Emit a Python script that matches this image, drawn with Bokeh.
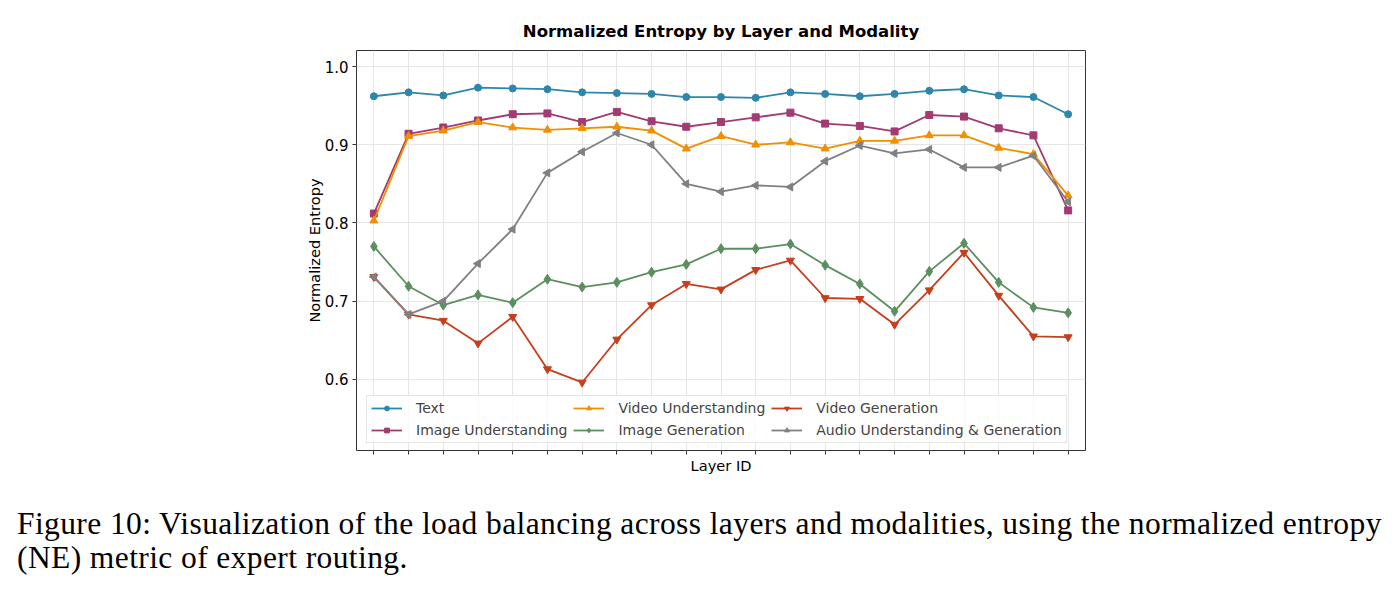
import math
from bokeh.plotting import figure
from bokeh.layouts import column
from bokeh.models import (ColumnDataSource, Legend, LegendItem, FixedTicker,
                          NumeralTickFormatter, CustomJSTickFormatter, Range1d, Div)
from bokeh.embed import file_html
from bokeh.resources import INLINE

layers = list(range(21))

text_ne = [0.962, 0.967, 0.963, 0.973, 0.972, 0.971, 0.967, 0.966, 0.965, 0.961,
           0.961, 0.960, 0.967, 0.965, 0.962, 0.965, 0.969, 0.971, 0.963, 0.961, 0.939]
image_und = [0.812, 0.914, 0.922, 0.931, 0.939, 0.940, 0.929, 0.942, 0.930, 0.923,
             0.929, 0.935, 0.941, 0.927, 0.924, 0.917, 0.938, 0.936, 0.921, 0.912, 0.816]
video_und = [0.803, 0.911, 0.918, 0.929, 0.922, 0.919, 0.921, 0.923, 0.918, 0.895,
             0.911, 0.900, 0.903, 0.895, 0.905, 0.905, 0.912, 0.912, 0.896, 0.888, 0.835]
image_gen = [0.770, 0.719, 0.695, 0.708, 0.698, 0.728, 0.718, 0.724, 0.737, 0.747,
             0.767, 0.767, 0.773, 0.746, 0.722, 0.687, 0.738, 0.774, 0.724, 0.692, 0.685]
video_gen = [0.731, 0.683, 0.675, 0.646, 0.680, 0.613, 0.596, 0.651, 0.695, 0.722,
             0.715, 0.740, 0.752, 0.704, 0.703, 0.670, 0.714, 0.762, 0.707, 0.655, 0.654]
audio = [0.731, 0.683, 0.700, 0.748, 0.792, 0.864, 0.891, 0.915, 0.900, 0.850,
         0.840, 0.848, 0.846, 0.879, 0.899, 0.889, 0.894, 0.871, 0.871, 0.886, 0.827]

y_ticks = [0.6, 0.7, 0.8, 0.9, 1.0]

series_names = ["Text", "Image Understanding", "Video Understanding",
                "Image Generation", "Video Generation", "Audio Understanding & Generation"]
series_values = [text_ne, image_und, video_und, image_gen, video_gen, audio]
colors = ["#2E86AB", "#A23B72", "#F18F01", "#5B8F5F", "#C73E1D", "#808080"]
markers = ["circle", "square", "triangle", "diamond", "inverted_triangle", "triangle"]
angles = [0, 0, 0, 0, 0, math.pi / 2]
sizes = [7, 7, 8, 10, 8, 8]

caption_line1 = "Figure 10: Visualization of the load balancing across layers and modalities, using the normalized entropy"
caption_line2 = "(NE) metric of expert routing."

p = figure(width=1394, height=505, output_backend="svg", toolbar_location=None,
           x_range=Range1d(-0.5, 20.5), y_range=Range1d(0.509, 1.0205),
           min_border_left=356, min_border_right=309, min_border_top=50,
           min_border_bottom=55)

p.title.text = "Normalized Entropy by Layer and Modality"
p.title.align = "center"
p.title.text_font = "DejaVu Sans"
p.title.text_font_size = "16.5px"
p.title.text_font_style = "bold"
p.title.text_color = "#000000"
p.title.standoff = 19

p.outline_line_color = "#333333"
p.outline_line_width = 1
p.background_fill_color = "white"
p.border_fill_color = "white"

for ax in (p.xaxis[0], p.yaxis[0]):
    ax.axis_line_color = None
    ax.major_tick_line_color = "#333333"
    ax.major_tick_out = 4
    ax.major_tick_in = 0
    ax.minor_tick_line_color = None
    ax.major_label_text_font = "DejaVu Sans"
    ax.major_label_text_font_size = "15px"
    ax.major_label_text_color = "#000000"
    ax.axis_label_text_font = "DejaVu Sans"
    ax.axis_label_text_font_size = "14.6px"
    ax.axis_label_text_font_style = "normal"
    ax.axis_label_text_color = "#000000"

p.xaxis.ticker = FixedTicker(ticks=layers)
p.xaxis.formatter = CustomJSTickFormatter(code="return ''")
p.xaxis.axis_label = "Layer ID"
p.xaxis.axis_label_standoff = 2

p.yaxis.ticker = FixedTicker(ticks=y_ticks)
p.yaxis.formatter = NumeralTickFormatter(format="0.0")
p.yaxis.axis_label = "Normalized Entropy"
p.yaxis.axis_label_standoff = -1
p.yaxis.major_label_standoff = 4

p.xgrid.grid_line_color = "#e6e6e6"
p.ygrid.grid_line_color = "#e6e6e6"
p.xgrid.grid_line_width = 1
p.ygrid.grid_line_width = 1

items = []
for name, vals, c, m, a, s in zip(series_names, series_values, colors, markers, angles, sizes):
    src = ColumnDataSource(dict(x=layers, y=vals))
    r1 = p.line("x", "y", source=src, line_color=c, line_width=1.8)
    r2 = p.scatter("x", "y", source=src, marker=m, size=s, angle=a,
                   fill_color=c, line_color=c)
    items.append(LegendItem(label=name, renderers=[r1, r2]))

legend = Legend(items=items, location=(10, 7), orientation="vertical", nrows=2,
                glyph_width=31, glyph_height=12, label_standoff=14, spacing=6,
                label_text_font="DejaVu Sans", label_text_font_size="14px",
                label_height=12, padding=4, margin=0,
                border_line_color="#cccccc", border_line_width=1,
                background_fill_color="white", background_fill_alpha=0.8)
p.add_layout(legend, "center")

caption = Div(
    text=caption_line1 + "<br>" + caption_line2,
    width=1394, height=85, margin=(0, 0, 0, 0),
    styles={"font-family": "'Liberation Serif', serif", "font-size": "31.5px",
            "letter-spacing": "0.4px", "line-height": "34px", "color": "#000000",
            "padding-left": "17px", "padding-top": "2px", "white-space": "nowrap"},
)

layout = column(p, caption, spacing=0)

open("out.html", "w").write(file_html(layout, INLINE))
